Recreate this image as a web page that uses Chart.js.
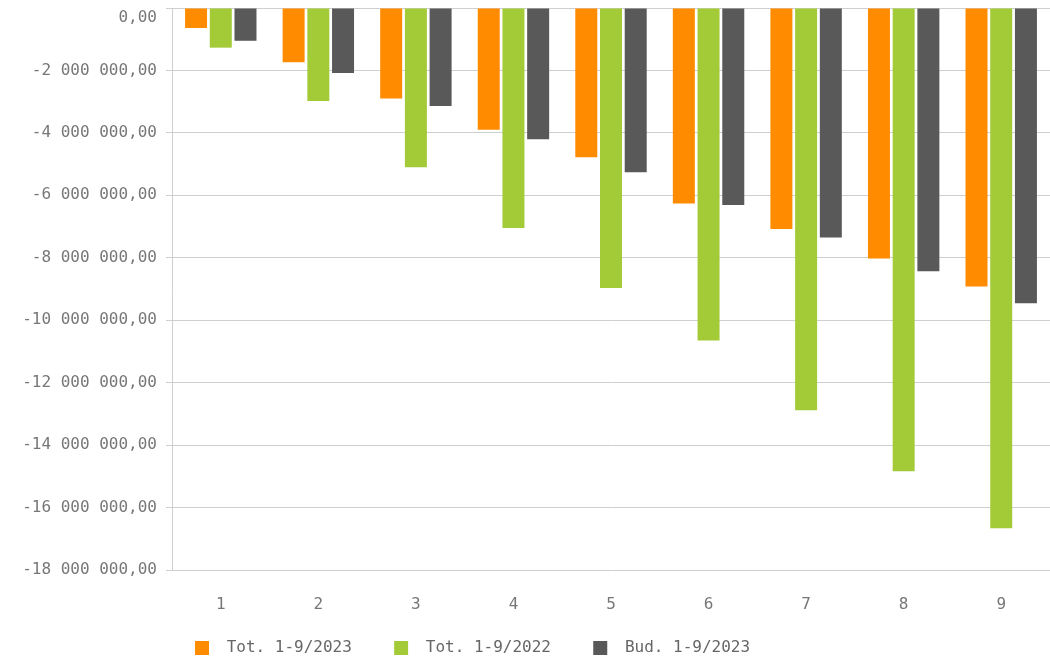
<!DOCTYPE html>
<html>
<head>
<meta charset="utf-8">
<script src="https://cdn.jsdelivr.net/npm/chart.js@4/dist/chart.umd.min.js"></script>
<style>
    html, body { margin: 0; padding: 0; background: #fff; }
    #wrap { width: 1050px; height: 659px; }
</style>
</head>
<body>
<div id="wrap"><canvas id="barChart"></canvas></div>
<script>
const months = ['1', '2', '3', '4', '5', '6', '7', '8', '9'];
const seriesNames = ['Tot. 1-9/2023', 'Tot. 1-9/2022', 'Bud. 1-9/2023'];
const tot2023 = [-640000, -1740000, -2900000, -3900000, -4780000, -6260000, -7080000, -8020000, -8920000];
const tot2022 = [-1270000, -2980000, -5100000, -7050000, -8970000, -10650000, -12880000, -14840000, -16660000];
const bud2023 = [-1050000, -2080000, -3140000, -4200000, -5260000, -6310000, -7350000, -8430000, -9460000];
const colors = ['#ff8c00', '#a3cb38', '#595959'];

const monoFont = { family: 'DejaVu Sans Mono', size: 16 };

function formatNumber(v) {
    const parts = Math.abs(v).toFixed(2).split('.');
    const whole = parts[0].replace(/\B(?=(\d{3})+(?!\d))/g, ' ');
    return (v < 0 ? '-' : '') + whole + ',' + parts[1];
}

const datasets = [tot2023, tot2022, bud2023].map((values, i) => ({
    label: seriesNames[i],
    data: values,
    backgroundColor: colors[i],
    borderWidth: 0,
    categoryPercentage: 0.76,
    barPercentage: 0.89
}));

new Chart(document.getElementById('barChart'), {
    type: 'bar',
    data: {
        labels: months,
        datasets: datasets
    },
    options: {
        responsive: true,
        maintainAspectRatio: false,
        animation: false,
        layout: {
            padding: { top: 8, right: 0, left: 0, bottom: -7 }
        },
        scales: {
            x: {
                grid: { display: false, drawTicks: false },
                border: { display: false },
                ticks: {
                    color: '#777',
                    font: monoFont,
                    padding: 25
                },
                afterFit: scale => { scale.height = 47; }
            },
            y: {
                min: -18000000,
                max: 0,
                grid: {
                    color: '#cfcfcf',
                    tickLength: 6
                },
                border: { color: '#cfcfcf' },
                ticks: {
                    stepSize: 2000000,
                    color: '#777',
                    font: monoFont,
                    padding: 9,
                    // top label sits just below its grid line, as in the original
                    callback: value => value === 0 ? ['', formatNumber(value)] : formatNumber(value)
                },
                afterFit: scale => {
                    scale.width = 172;
                    scale.paddingTop = 0;
                    scale.paddingBottom = 0;
                }
            }
        },
        plugins: {
            legend: {
                display: true,
                position: 'bottom',
                align: 'start',
                fullSize: false,
                labels: {
                    boxWidth: 14,
                    boxHeight: 14,
                    padding: 23,
                    color: '#666',
                    font: monoFont,
                    // extra spaces give the wider gaps seen between legend items
                    generateLabels: chart => chart.data.datasets.map((ds, i) => ({
                        text: ' ' + ds.label + '  ',
                        fillStyle: ds.backgroundColor,
                        strokeStyle: ds.backgroundColor,
                        fontColor: '#666',
                        lineWidth: 0,
                        hidden: false,
                        datasetIndex: i
                    }))
                }
            },
            tooltip: { enabled: false }
        }
    }
});
</script>
</body>
</html>
